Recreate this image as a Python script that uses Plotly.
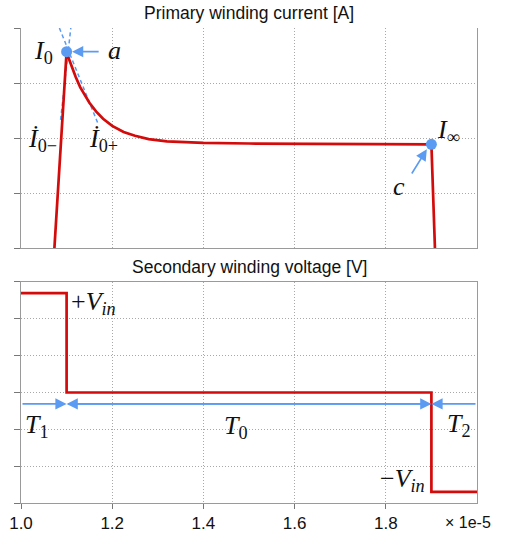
import plotly.graph_objects as go

# Time axis is expressed in units of 1e-5 s
t_current = [1.071, 1.100, 1.105, 1.110, 1.115, 1.120, 1.130, 1.140, 1.150, 1.165,
             1.180, 1.200, 1.225, 1.250, 1.280, 1.320, 1.360, 1.400, 1.500, 1.600,
             1.700, 1.800, 1.900, 1.909]
i_current = [-0.30, 3.57, 3.44, 3.32, 3.21, 3.11, 2.92, 2.77, 2.64, 2.48,
             2.35, 2.22, 2.11, 2.04, 1.98, 1.94, 1.92, 1.91, 1.90, 1.895,
             1.89, 1.888, 1.885, -0.30]

t_voltage = [1.0, 1.1, 1.1, 1.9, 1.9, 2.0]
v_voltage = [2.7, 2.7, 0.0, 0.0, -2.7, -2.7]

# Marked points: peak current (a) and end-of-interval current (c)
t_marks = [1.1, 1.9]
i_marks = [3.57, 1.885]

# Tangents of the current at the peak (left and right derivative)
tan_minus_t = [1.0868, 1.1092]
tan_minus_i = [2.33, 4.0]
tan_plus_t = [1.0842, 1.1699]
tan_plus_i = [4.0, 2.24]

# Switching instants and interval arrow level
t_switch = [1.0, 1.1, 1.9, 2.0]
arrow_level = -0.31

x_ticks = [1.0, 1.2, 1.4, 1.6, 1.8]
x_ticklabels = ["1.0", "1.2", "1.4", "1.6", "1.8"]

RED = "#d40b0b"
BLUE = "#5b9bf2"
GRID = "#a8a8a8"
AXIS = "#9a9a9a"
SANS = "Liberation Sans"
SERIF = "Liberation Serif"

fig = go.Figure()

# Primary winding current
for tt, ii in ((tan_minus_t, tan_minus_i), (tan_plus_t, tan_plus_i)):
    fig.add_trace(go.Scatter(x=tt, y=ii, mode="lines",
                             line=dict(color=BLUE, width=1.5, dash="4px,3px"),
                             xaxis="x", yaxis="y", showlegend=False))
fig.add_trace(go.Scatter(x=t_current, y=i_current, mode="lines",
                         line=dict(color=RED, width=2.7),
                         xaxis="x", yaxis="y", showlegend=False))
fig.add_trace(go.Scatter(x=t_marks, y=i_marks, mode="markers",
                         marker=dict(color=BLUE, size=11),
                         xaxis="x", yaxis="y", showlegend=False, cliponaxis=False))

# Secondary winding voltage
fig.add_trace(go.Scatter(x=t_voltage, y=v_voltage, mode="lines",
                         line=dict(color=RED, width=2.7),
                         xaxis="x2", yaxis="y2", showlegend=False))

axis_common = dict(showline=True, linecolor=AXIS, linewidth=1, automargin=False,
                   showgrid=True, gridcolor=GRID, griddash="1px,2px", gridwidth=1,
                   zeroline=False)

fig.update_layout(
    width=508, height=537,
    margin=dict(l=21, r=31, t=28, b=34),
    paper_bgcolor="white", plot_bgcolor="white",
    xaxis=dict(domain=[0, 1], range=[1.0, 2.0], anchor="y",
               tickvals=x_ticks + [2.0], showticklabels=False, ticks="",
               **axis_common),
    yaxis=dict(domain=[0.5368, 1.0], range=[0, 4], anchor="x",
               tickvals=[0, 1, 2, 3, 4], showticklabels=False,
               ticks="outside", ticklen=6, tickcolor="#777", mirror=True,
               **axis_common),
    xaxis2=dict(domain=[0, 1], range=[1.0, 2.0], anchor="y2",
                tickvals=x_ticks, ticktext=x_ticklabels, mirror=True,
                ticks="outside", ticklen=5, tickcolor="#777",
                tickfont=dict(family=SANS, size=17, color="#111"),
                **axis_common),
    yaxis2=dict(domain=[0, 0.4653], range=[-3, 3], anchor="x2",
                tickvals=[-3, -2, -1, 0, 1, 2, 3], showticklabels=False,
                ticks="outside", ticklen=6, tickcolor="#777", mirror=True,
                **axis_common),
)

ann = []

# Panel titles
title_font = dict(family=SANS, size=17.5, color="#111")
ann.append(dict(text="Primary winding current [A]", xref="paper", yref="paper",
                x=0.5, y=1.0, yshift=3, xanchor="center", yanchor="bottom",
                showarrow=False, font=title_font))
ann.append(dict(text="Secondary winding voltage [V]", xref="paper", yref="paper",
                x=0.5, y=0.4653, yshift=3, xanchor="center", yanchor="bottom",
                showarrow=False, font=title_font))
# Axis multiplier
ann.append(dict(text="× 1e-5", xref="paper", yref="paper", x=0.980, y=0,
                yshift=-19, xanchor="center", yanchor="middle",
                showarrow=False, font=dict(family=SANS, size=16, color="#111")))

math_font = dict(family=SERIF, size=26, color="#111")


def math_label(text, x, y, xr, yr):
    ann.append(dict(text=text, x=x, y=y, xref=xr, yref=yr, showarrow=False,
                    xanchor="center", yanchor="middle", font=math_font))


math_label("<i>I</i><sub>0</sub>", 1.0484, 3.56, "x", "y")
math_label("<i>a</i>", 1.2044, 3.60, "x", "y")
math_label("<i>İ</i><sub>0−</sub>", 1.0462, 1.96, "x", "y")
math_label("<i>İ</i><sub>0+</sub>", 1.1802, 1.96, "x", "y")
math_label("<i>c</i>", 1.8286, 1.12, "x", "y")
math_label("<i>I</i><sub>∞</sub>", 1.9385, 2.13, "x", "y")
math_label("+<i>V<sub>in</sub></i>", 1.1582, 2.43, "x2", "y2")
math_label("<i>T</i><sub>1</sub>", 1.0352, -0.91, "x2", "y2")
math_label("<i>T</i><sub>0</sub>", 1.4725, -0.94, "x2", "y2")
math_label("<i>T</i><sub>2</sub>", 1.9604, -0.88, "x2", "y2")
math_label("−<i>V<sub>in</sub></i>", 1.8374, -2.38, "x2", "y2")

arrow_style = dict(showarrow=True, arrowhead=2, arrowsize=1.4, arrowwidth=1.6,
                   arrowcolor=BLUE, text="", standoff=0, startstandoff=0)

# Pointer arrows to the marked points
ann.append(dict(x=t_marks[0] + 0.012, y=i_marks[0], ax=1.1736, ay=i_marks[0],
                xref="x", yref="y", axref="x", ayref="y", **arrow_style))
ann.append(dict(x=t_marks[1] - 0.010, y=i_marks[1] - 0.09, ax=1.855, ay=1.327,
                xref="x", yref="y", axref="x", ayref="y", **arrow_style))

# Interval arrows T1, T0, T2
ann.append(dict(x=t_switch[1], y=arrow_level, ax=t_switch[0], ay=arrow_level,
                xref="x2", yref="y2", axref="x2", ayref="y2", **arrow_style))
ann.append(dict(x=t_switch[1], y=arrow_level, ax=t_switch[2], ay=arrow_level,
                xref="x2", yref="y2", axref="x2", ayref="y2", **arrow_style))
ann.append(dict(x=t_switch[2], y=arrow_level, ax=t_switch[1], ay=arrow_level,
                xref="x2", yref="y2", axref="x2", ayref="y2", **arrow_style))
ann.append(dict(x=t_switch[2], y=arrow_level, ax=t_switch[3], ay=arrow_level,
                xref="x2", yref="y2", axref="x2", ayref="y2", **arrow_style))

fig.update_layout(annotations=ann)

fig.write_html("out.html")
